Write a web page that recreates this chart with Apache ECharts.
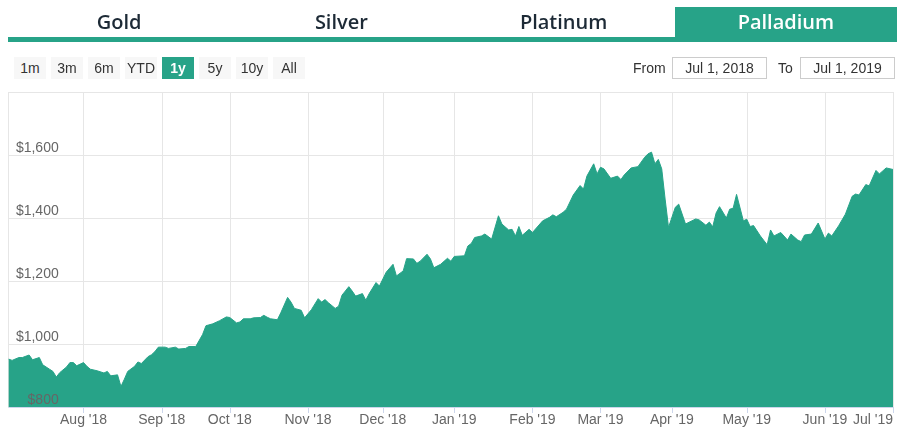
<!DOCTYPE html>
<html>
<head>
<meta charset="utf-8">
<script src="https://cdn.jsdelivr.net/npm/echarts@6/dist/echarts.min.js"></script>
<style>
  html, body { margin: 0; padding: 0; background: #fff; }
  body { width: 900px; height: 440px; position: relative; overflow: hidden; font-family: "Liberation Sans", Arial, sans-serif; }
  #chart { position: absolute; left: 0; top: 0; width: 900px; height: 440px; }
  .tab { position: absolute; top: 7px; height: 30px; width: 222.25px; text-align: center; line-height: 30px;
         font-family: "Open Sans", sans-serif; font-weight: 600; font-size: 20px; color: #1d2a36; }
  .tab.active { background: #27a388; color: #fff; }
  .tabline { position: absolute; left: 8px; top: 37px; width: 889px; height: 4.5px; background: #27a388; }
  .btn { position: absolute; top: 57px; width: 32px; height: 22px; line-height: 22px; text-align: center;
         background: #f7f7f7; color: #333; font-size: 14px; }
  .btn.sel { background: #27a388; color: #fff; font-weight: bold; }
  .lbl { position: absolute; top: 57px; height: 22px; line-height: 22px; font-size: 14px; color: #333; }
  .box { position: absolute; top: 57px; height: 20px; line-height: 20px; width: 93px; border: 1px solid #ccc;
         text-align: center; font-size: 14px; color: #333; background: #fff; }
</style>
</head>
<body>
<div id="chart"></div>
<div id="ui"></div>
<script>
// ---- data ----
const tabs = ['Gold', 'Silver', 'Platinum', 'Palladium'];
const rangeButtons = ['1m', '3m', '6m', 'YTD', '1y', '5y', '10y', 'All'];
const fromDate = 'Jul 1, 2018';
const toDate = 'Jul 1, 2019';

const dates = [
'2018-07-02','2018-07-03','2018-07-05','2018-07-06','2018-07-10','2018-07-11','2018-07-13','2018-07-16','2018-07-18','2018-07-19',
'2018-07-20','2018-07-23','2018-07-25','2018-07-26','2018-07-27','2018-07-30','2018-08-01','2018-08-02','2018-08-03','2018-08-07',
'2018-08-09','2018-08-10','2018-08-13','2018-08-15','2018-08-16','2018-08-17','2018-08-20','2018-08-22','2018-08-23','2018-08-24',
'2018-08-28','2018-08-29','2018-08-30','2018-08-31','2018-09-04','2018-09-05','2018-09-07','2018-09-10','2018-09-12','2018-09-13',
'2018-09-17','2018-09-19','2018-09-20','2018-09-24','2018-09-26','2018-09-28','2018-10-01','2018-10-03','2018-10-04','2018-10-05',
'2018-10-09','2018-10-10','2018-10-12','2018-10-15','2018-10-16','2018-10-17','2018-10-19','2018-10-22','2018-10-24','2018-10-25',
'2018-10-26','2018-10-30','2018-10-31','2018-11-02','2018-11-06','2018-11-07','2018-11-08','2018-11-09','2018-11-13','2018-11-14',
'2018-11-15','2018-11-19','2018-11-20','2018-11-21','2018-11-23','2018-11-26','2018-11-27','2018-11-29','2018-11-30','2018-12-04',
'2018-12-06','2018-12-07','2018-12-11','2018-12-12','2018-12-14','2018-12-17','2018-12-18','2018-12-20','2018-12-21','2018-12-24',
'2018-12-26','2018-12-28','2018-12-31','2019-01-01','2019-01-04','2019-01-07','2019-01-08','2019-01-09','2019-01-11','2019-01-14',
'2019-01-16','2019-01-18','2019-01-21','2019-01-23','2019-01-24','2019-01-25','2019-01-28','2019-01-29','2019-01-31','2019-02-01',
'2019-02-06','2019-02-08','2019-02-11','2019-02-12','2019-02-14','2019-02-15','2019-02-19','2019-02-21','2019-02-22','2019-02-25',
'2019-02-27','2019-02-28','2019-03-01','2019-03-04','2019-03-06','2019-03-08','2019-03-11','2019-03-12','2019-03-14','2019-03-18',
'2019-03-20','2019-03-21','2019-03-22','2019-03-25','2019-03-26','2019-03-27','2019-03-28','2019-03-29','2019-04-02','2019-04-03',
'2019-04-05','2019-04-10','2019-04-11','2019-04-15','2019-04-16','2019-04-17','2019-04-18','2019-04-19','2019-04-23','2019-04-24',
'2019-04-25','2019-04-26','2019-04-30','2019-05-01','2019-05-02','2019-05-03','2019-05-07','2019-05-09','2019-05-10','2019-05-13',
'2019-05-15','2019-05-17','2019-05-20','2019-05-22','2019-05-23','2019-05-24','2019-05-28','2019-05-30','2019-06-03','2019-06-04',
'2019-06-05','2019-06-07','2019-06-11','2019-06-13','2019-06-14','2019-06-17','2019-06-19','2019-06-20','2019-06-24','2019-06-25',
'2019-06-27','2019-07-01'
];
const prices = [
952,948,957,957,965,950,957,934,920,913,
895,909,927,941,941,931,941,929,920,915,
908,913,899,902,865,888,913,929,943,938,
960,966,976,990,990,986,990,984,986,992,
992,1030,1058,1064,1074,1086,1084,1067,1070,1080,
1080,1083,1084,1091,1085,1080,1077,1099,1148,1133,
1113,1107,1083,1109,1144,1133,1141,1131,1113,1120,
1155,1182,1168,1152,1160,1139,1160,1195,1184,1228,
1253,1216,1232,1271,1270,1256,1263,1285,1270,1242,
1253,1272,1263,1278,1280,1311,1319,1338,1343,1349,
1333,1407,1381,1362,1364,1343,1373,1345,1364,1354,
1391,1402,1410,1404,1418,1428,1473,1503,1492,1533,
1572,1540,1561,1556,1526,1533,1522,1537,1559,1563,
1593,1604,1609,1572,1586,1556,1460,1370,1434,1444,
1381,1397,1394,1377,1387,1372,1416,1436,1400,1428,
1431,1475,1391,1396,1373,1376,1343,1315,1362,1343,
1354,1330,1349,1330,1325,1346,1349,1384,1333,1352,
1343,1375,1412,1469,1476,1473,1506,1502,1551,1540,
1559,1554
];

// month-start tick positions (first trading day of each month) and their labels
const tickDates = ['2018-07-02','2018-08-01','2018-09-03','2018-10-01','2018-11-01','2018-12-03','2019-01-01',
                   '2019-02-01','2019-03-01','2019-04-01','2019-05-01','2019-06-03','2019-07-01'];
const tickLabels = ['', "Aug '18", "Sep '18", "Oct '18", "Nov '18", "Dec '18", "Jan '19",
                    "Feb '19", "Mar '19", "Apr '19", "May '19", "Jun '19", "Jul '19"];
const yMin = 800, yMax = 1800, yStep = 200;

// ---- ordinal (trading-day) category axis: weekdays in the range ----
const categories = [];
(function () {
  let d = new Date(Date.UTC(2018, 6, 2));
  const end = Date.UTC(2019, 6, 1);
  while (d.getTime() <= end) {
    const wd = d.getUTCDay();
    if (wd !== 0 && wd !== 6) categories.push(d.toISOString().slice(0, 10));
    d = new Date(d.getTime() + 86400000);
  }
})();
const catIndex = {};
categories.forEach((c, i) => catIndex[c] = i);
const tickIdx = {};
tickDates.forEach((t, k) => tickIdx[catIndex[t]] = tickLabels[k]);

// ---- UI (tabs, range buttons, date boxes) ----
const ui = document.getElementById('ui');
let html = '';
tabs.forEach((t, i) => {
  html += '<div class="tab' + (i === 3 ? ' active' : '') + '" style="left:' + (8 + i * 222.25) + 'px">' + t + '</div>';
});
html += '<div class="tabline"></div>';
rangeButtons.forEach((b, i) => {
  html += '<div class="btn' + (b === '1y' ? ' sel' : '') + '" style="left:' + (14 + i * 37) + 'px">' + b + '</div>';
});
html += '<div class="lbl" style="left:633px">From</div>';
html += '<div class="box" style="left:672px">' + fromDate + '</div>';
html += '<div class="lbl" style="left:778px">To</div>';
html += '<div class="box" style="left:800px">' + toDate + '</div>';
ui.innerHTML = html;

// ---- chart ----
const teal = '#27a388';
const chart = echarts.init(document.getElementById('chart'), null, { renderer: 'canvas' });
const fmtY = v => '$' + v.toLocaleString('en-US');
chart.setOption({
  animation: false,
  backgroundColor: '#fff',
  grid: { left: 8.7, right: 7, top: 92, bottom: 33 },
  xAxis: {
    type: 'category',
    data: categories,
    boundaryGap: false,
    axisLine: { lineStyle: { color: '#ccd6eb' } },
    axisTick: { show: true, length: 6, lineStyle: { color: '#ccd6eb' }, interval: (i) => tickIdx[i] !== undefined && i !== 0 },
    splitLine: { show: true, lineStyle: { color: '#e6e6e6' }, interval: (i) => tickIdx[i] !== undefined },
    axisLabel: {
      interval: (i) => !!tickIdx[i],
      formatter: (v, i) => tickIdx[catIndex[v]] || '',
      color: '#666', fontSize: 14, fontFamily: 'Liberation Sans', margin: 6,
      alignMaxLabel: 'right'
    }
  },
  yAxis: [
    {
      type: 'value', position: 'left', min: yMin, max: yMax, interval: yStep,
      axisLine: { show: false }, axisTick: { show: false },
      splitLine: { lineStyle: { color: '#e6e6e6' } },
      axisLabel: { show: false }
    },
    {
      type: 'value', position: 'left', offset: 0, min: yMin, max: yMax, interval: yStep, z: 10,
      axisLine: { show: false }, axisTick: { show: false }, splitLine: { show: false },
      axisLabel: {
        formatter: fmtY, showMaxLabel: false,
        margin: -50, align: 'right', verticalAlign: 'bottom',
        color: '#666', fontSize: 14, fontFamily: 'Liberation Sans'
      }
    }
  ],
  series: [{
    type: 'line',
    data: dates.map((d, k) => [catIndex[d], prices[k]]),
    showSymbol: false,
    lineStyle: { color: teal, width: 1 },
    itemStyle: { color: teal },
    areaStyle: { color: teal, opacity: 1, origin: 'start' }
  }]
});
</script>
</body>
</html>
